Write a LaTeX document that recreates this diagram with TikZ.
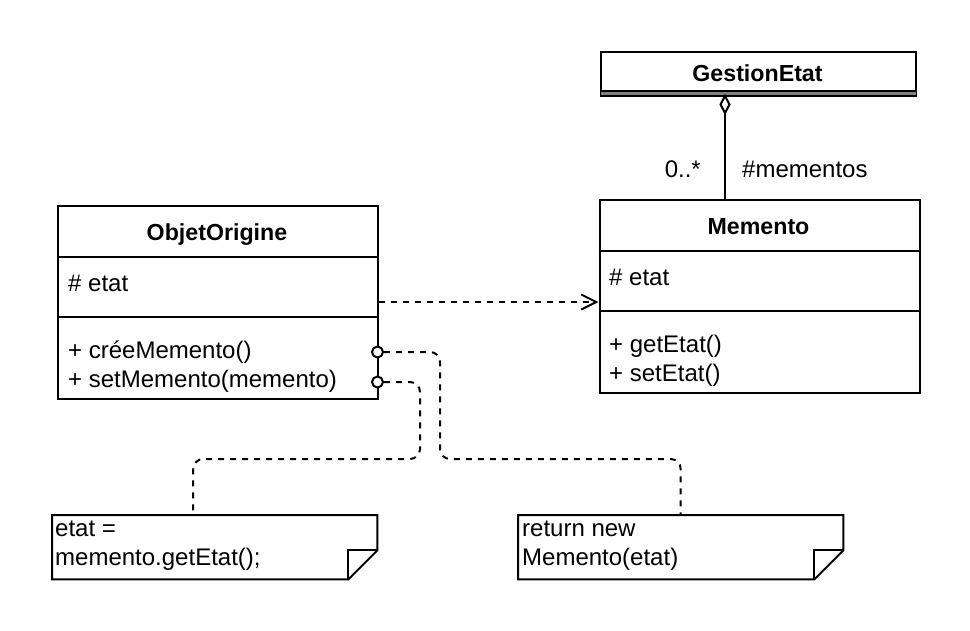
\documentclass[tikz,border=0pt]{standalone}
\usepackage{fontspec}
\setmainfont{Liberation Sans}
\usetikzlibrary{arrows.meta}
\begin{document}
\begin{tikzpicture}[x=1pt,y=-1pt,
  lw/.style={line width=2pt},
  umlbox/.style={draw, line width=2pt, inner sep=0, anchor=north west},
  txt/.style={inner sep=0, font=\fontsize{24}{28}\selectfont},
  ttl/.style={inner sep=0, font=\fontsize{23.2}{28}\selectfont\bfseries},
  dashline/.style={line width=2pt, dash pattern=on 6pt off 6pt},
  port/.style={circle, draw, fill=white, line width=2pt, minimum size=11pt, inner sep=0},
  notebox/.style={inner sep=0, minimum width=325pt, minimum height=64pt, anchor=north west},
]
\fill[white] (0,0) rectangle (970,630);
\useasboundingbox (0,0) rectangle (970,630);

% GestionEtat
\node[umlbox, minimum width=315pt, minimum height=44pt] (ge) at (600,51) {};
\node[ttl, anchor=base] (getitle) at (757.5,81) {GestionEtat};
\draw[line width=3pt, gray] ([xshift=1pt,yshift=3.5pt]ge.south west) -- ([xshift=-1pt,yshift=3.5pt]ge.south east);
\draw[line width=1.5pt] ([yshift=6pt]ge.south west) -- ([yshift=6pt]ge.south east);

% ObjetOrigine
\node[umlbox, minimum width=320pt, minimum height=193pt] (oo) at (57,205) {};
\draw[lw] ([yshift=-52pt]oo.north west) -- ([yshift=-52pt]oo.north east);
\draw[lw] ([yshift=-112pt]oo.north west) -- ([yshift=-112pt]oo.north east);
\node[ttl, anchor=base] (ootitle) at (217,240) {ObjetOrigine};
\node[txt, anchor=base west] (ooattr) at (68,291) {\# etat};
\node[txt, anchor=base west] (oom1) at (68,358) {+ créeMemento()};
\node[txt, anchor=base west] (oom2) at (68,387) {+ setMemento(memento)};

% Memento
\node[umlbox, minimum width=320pt, minimum height=193pt] (mm) at (598.5,199) {};
\draw[lw] ([yshift=-52pt]mm.north west) -- ([yshift=-52pt]mm.north east);
\draw[lw] ([yshift=-112pt]mm.north west) -- ([yshift=-112pt]mm.north east);
\node[ttl, anchor=base] (mmtitle) at (758.5,234) {Memento};
\node[txt, anchor=base west] (mmattr) at (609,285.5) {\# etat};
\node[txt, anchor=base west] (mmm1) at (609,352) {+ getEtat()};
\node[txt, anchor=base west] (mmm2) at (609,381) {+ setEtat()};

% aggregation
\coordinate (dt) at (725,96);
\draw[lw, fill=white] (dt) -- ++(4.5,8.5) -- ++(-4.5,8.5) -- ++(-4.5,-8.5) -- cycle;
\draw[lw] ([yshift=-17pt]dt) -- (dt |- mm.north);
\node[txt, anchor=base east] (mult) at (701,177) {0..*};
\node[txt, anchor=base west] (role) at (742,177) {\#mementos};

% dependency
\coordinate (ay) at (0,302);
\draw[dashline, -{Straight Barb[length=15pt, width=15pt, line width=2pt]}] (oo.east |- ay) -- (mm.west |- ay);

% notes
\node[notebox] (n1) at (52,515) {};
\draw[lw] (n1.north west) -- (n1.north east) -- ([yshift=29pt]n1.south east) -- ([xshift=-29pt]n1.south east) -- (n1.south west) -- cycle;
\draw[lw] ([yshift=29pt]n1.south east) -- ([xshift=-29pt,yshift=29pt]n1.south east) -- ([xshift=-29pt]n1.south east);
\node[txt, anchor=base west] (n1l1) at (55,536) {etat =};
\node[txt, anchor=base west] (n1l2) at (55,565) {memento.getEtat();};

\node[notebox] (n2) at (518,515) {};
\draw[lw] (n2.north west) -- (n2.north east) -- ([yshift=29pt]n2.south east) -- ([xshift=-29pt]n2.south east) -- (n2.south west) -- cycle;
\draw[lw] ([yshift=29pt]n2.south east) -- ([xshift=-29pt,yshift=29pt]n2.south east) -- ([xshift=-29pt]n2.south east);
\node[txt, anchor=base west] (n2l1) at (522,536) {return new};
\node[txt, anchor=base west] (n2l2) at (522,565) {Memento(etat)};

% note links
\node[port] (c1) at (377.5,352) {};
\node[port] (c2) at (377.5,382) {};
\coordinate (h) at (0,459);
\coordinate (n1a) at ([xshift=-21.5pt]n1.north);
\draw[dashline, rounded corners=10pt] (c1.east) -- (440,352) -- (440,459) -- (n2.north |- h) -- (n2.north);
\draw[dashline, rounded corners=10pt] (c2.east) -- (420,382) -- (420,459) -- (n1a |- h) -- (n1a);
\end{tikzpicture}
\end{document}
